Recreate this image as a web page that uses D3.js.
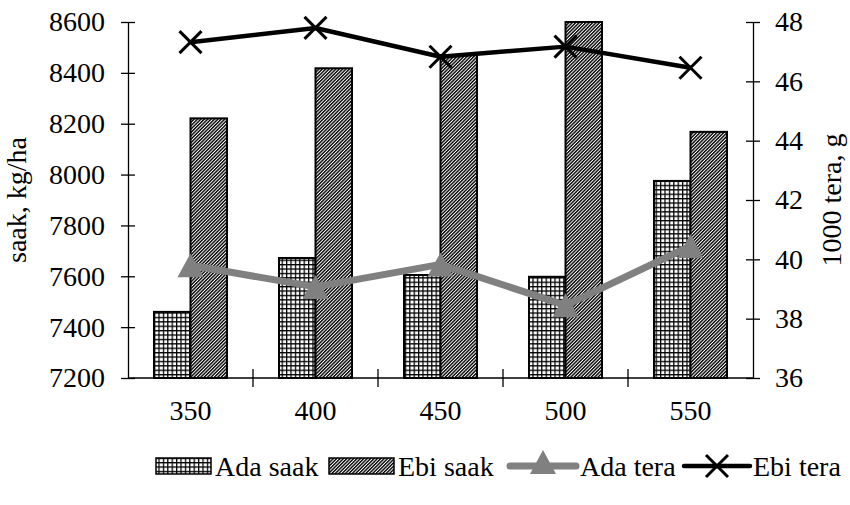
<!DOCTYPE html>
<html>
<head>
<meta charset="utf-8">
<script src="https://cdn.jsdelivr.net/npm/d3@7"></script>
<style>
  html, body { margin: 0; padding: 0; background: #fff; }
  svg text { font-family: "Liberation Serif", "Times New Roman", serif; fill: #000; }
</style>
</head>
<body>
<svg id="chart" width="850" height="505"></svg>
<script>
// Seeding rates (x categories)
const categories = ["350", "400", "450", "500", "550"];
// Grain yield, kg/ha (left axis, bars)
const adaSaak = [7460, 7672, 7605, 7598, 7975];
const ebiSaak = [8221, 8418, 8470, 8600, 8168];
// 1000-grain weight, g (right axis, lines)
const adaTera = [39.8, 39.07, 39.83, 38.45, 40.45];
const ebiTera = [47.32, 47.8, 46.83, 47.17, 46.46];
// Axis ticks
const leftTicks = [7200, 7400, 7600, 7800, 8000, 8200, 8400, 8600];
const rightTicks = [36, 38, 40, 42, 44, 46, 48];
const seriesNames = ["Ada saak", "Ebi saak", "Ada tera", "Ebi tera"];

const svg = d3.select("#chart");
const plot = { left: 128, right: 753, top: 22, bottom: 378 };

const x = d3.scaleBand().domain(categories).range([plot.left, plot.right]).paddingInner(0).paddingOuter(0);
const xSub = d3.scaleBand().domain(["ada", "ebi"]).range([0, x.bandwidth()]).paddingInner(0).paddingOuter(0.712);
const yL = d3.scaleLinear().domain([7200, 8600]).range([plot.bottom, plot.top]);
const yR = d3.scaleLinear().domain([36, 48]).range([plot.bottom, plot.top]);

// Fill patterns
const defs = svg.append("defs");
const grid = defs.append("pattern").attr("id", "grid").attr("patternUnits", "userSpaceOnUse")
  .attr("width", 4.4).attr("height", 4.4);
grid.append("rect").attr("width", 4.4).attr("height", 4.4).attr("fill", "#fff");
grid.append("path").attr("d", "M0,0.6H4.4M0.6,0V4.4").attr("stroke", "#000").attr("stroke-width", 1.3).attr("fill", "none");

const hatch = defs.append("pattern").attr("id", "hatch").attr("patternUnits", "userSpaceOnUse")
  .attr("width", 2.4).attr("height", 10).attr("patternTransform", "rotate(45)");
hatch.append("rect").attr("width", 2.4).attr("height", 10).attr("fill", "#fff");
hatch.append("rect").attr("width", 1.4).attr("height", 10).attr("fill", "#000");

// Bars
const barData = [];
categories.forEach((c, i) => {
  barData.push({ c, key: "ada", v: adaSaak[i], fill: "url(#grid)" });
  barData.push({ c, key: "ebi", v: ebiSaak[i], fill: "url(#hatch)" });
});
svg.append("g").selectAll("rect").data(barData).join("rect")
  .attr("x", d => x(d.c) + xSub(d.key))
  .attr("y", d => yL(d.v))
  .attr("width", xSub.bandwidth())
  .attr("height", d => yL(7200) - yL(d.v))
  .attr("fill", d => d.fill)
  .attr("stroke", "#000").attr("stroke-width", 2);

// Axes
const leftAxis = svg.append("g").attr("transform", `translate(${plot.left},0)`)
  .call(d3.axisLeft(yL).tickValues(leftTicks).tickFormat(d3.format("d")).tickSizeInner(7).tickSizeOuter(0).tickPadding(16));
leftAxis.selectAll(".tick line").attr("x2", -7).attr("x1", 7);

const rightAxis = svg.append("g").attr("transform", `translate(${plot.right},0)`)
  .call(d3.axisRight(yR).tickValues(rightTicks).tickSizeInner(7).tickSizeOuter(0).tickPadding(15));
rightAxis.selectAll(".tick line").attr("x1", -7).attr("x2", 7);

const bottomAxis = svg.append("g").attr("transform", `translate(0,${plot.bottom})`)
  .call(d3.axisBottom(x).tickSize(0).tickPadding(22));
bottomAxis.select(".domain").remove();
svg.append("line").attr("x1", plot.left).attr("x2", plot.right)
  .attr("y1", plot.bottom).attr("y2", plot.bottom).attr("stroke", "#000").attr("stroke-width", 1.3);
// Category boundary ticks
const bounds = categories.slice(1).map(c => x(c));
svg.append("g").selectAll("line").data(bounds).join("line")
  .attr("x1", d => d).attr("x2", d => d)
  .attr("y1", plot.bottom - 9).attr("y2", plot.bottom + 9)
  .attr("stroke", "#000").attr("stroke-width", 1.3);

svg.selectAll(".domain").attr("stroke", "#000").attr("stroke-width", 1.3);
svg.selectAll(".tick line").attr("stroke", "#000").attr("stroke-width", 1.3);
svg.selectAll(".tick text").attr("font-size", 28).attr("font-family", "Liberation Serif");

// Axis titles
svg.append("text").attr("transform", "translate(26,200) rotate(-90)")
  .attr("text-anchor", "middle").attr("font-size", 28).text("saak, kg/ha");
svg.append("text").attr("transform", "translate(841,200) rotate(-90)")
  .attr("text-anchor", "middle").attr("font-size", 28).text("1000 tera, g");

// Lines
const cx = c => x(c) + x.bandwidth() / 2;
const line = d3.line().x(d => cx(d.c)).y(d => yR(d.v));
const adaPts = categories.map((c, i) => ({ c, v: adaTera[i] }));
const ebiPts = categories.map((c, i) => ({ c, v: ebiTera[i] }));

const triPath = "M0,-12L13,12L-13,12Z";
const xPath = "M-11,-11L11,11M-11,11L11,-11";

svg.append("path").datum(adaPts).attr("d", line).attr("fill", "none")
  .attr("stroke", "#808080").attr("stroke-width", 7).attr("stroke-linejoin", "round");
svg.append("g").selectAll("path").data(adaPts).join("path")
  .attr("transform", d => `translate(${cx(d.c)},${yR(d.v)})`)
  .attr("d", triPath).attr("fill", "#808080");

svg.append("path").datum(ebiPts).attr("d", line).attr("fill", "none")
  .attr("stroke", "#000").attr("stroke-width", 4.5).attr("stroke-linejoin", "round");
svg.append("g").selectAll("path").data(ebiPts).join("path")
  .attr("transform", d => `translate(${cx(d.c)},${yR(d.v)})`)
  .attr("d", xPath).attr("fill", "none").attr("stroke", "#000").attr("stroke-width", 3);

// Legend
const lg = svg.append("g");
const ly = 466;
lg.append("rect").attr("x", 156).attr("y", ly - 8).attr("width", 55).attr("height", 16)
  .attr("fill", "url(#grid)").attr("stroke", "#000").attr("stroke-width", 1.5);
lg.append("text").attr("x", 215).attr("y", ly + 10).attr("font-size", 28).text(seriesNames[0]);
lg.append("rect").attr("x", 329).attr("y", ly - 8).attr("width", 65).attr("height", 16)
  .attr("fill", "url(#hatch)").attr("stroke", "#000").attr("stroke-width", 1.5);
lg.append("text").attr("x", 398).attr("y", ly + 10).attr("font-size", 28).text(seriesNames[1]);
lg.append("line").attr("x1", 510).attr("x2", 576).attr("y1", ly).attr("y2", ly)
  .attr("stroke", "#808080").attr("stroke-width", 7).attr("stroke-linecap", "round");
lg.append("path").attr("transform", `translate(543,${ly - 4})`).attr("d", triPath).attr("fill", "#808080");
lg.append("text").attr("x", 580).attr("y", ly + 10).attr("font-size", 28).text(seriesNames[2]);
lg.append("line").attr("x1", 684).attr("x2", 750).attr("y1", ly).attr("y2", ly)
  .attr("stroke", "#000").attr("stroke-width", 4.5).attr("stroke-linecap", "round");
lg.append("path").attr("transform", `translate(717,${ly})`).attr("d", xPath)
  .attr("fill", "none").attr("stroke", "#000").attr("stroke-width", 3);
lg.append("text").attr("x", 753).attr("y", ly + 10).attr("font-size", 28).text(seriesNames[3]);
</script>
</body>
</html>
